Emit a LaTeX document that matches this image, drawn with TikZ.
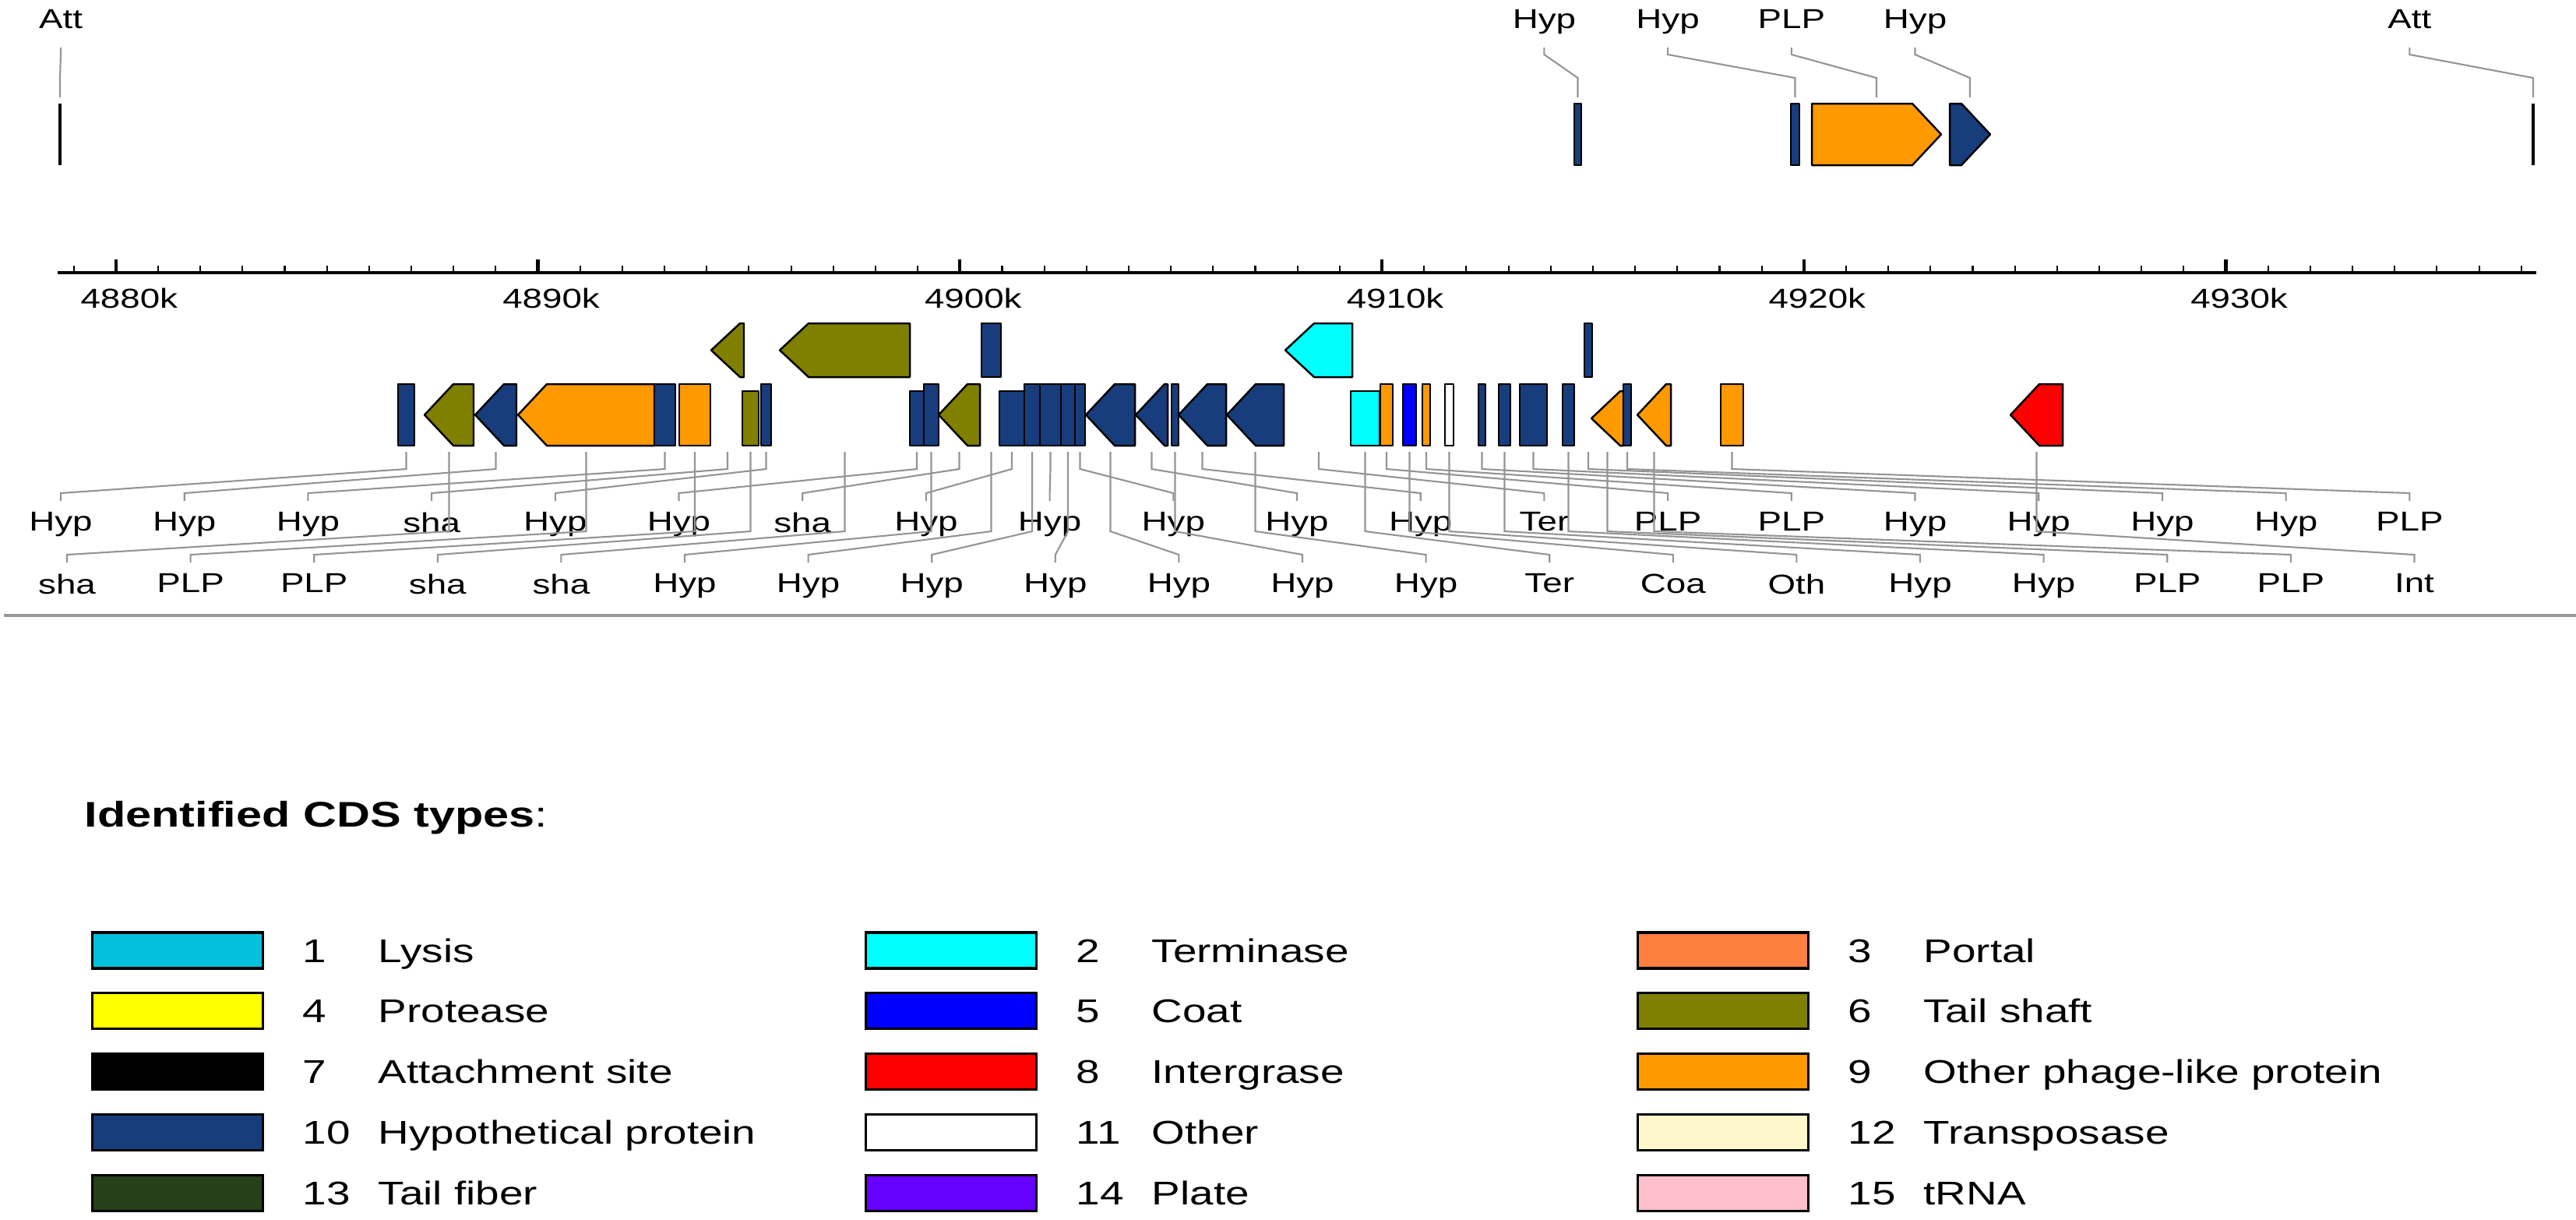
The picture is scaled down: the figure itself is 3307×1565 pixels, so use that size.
\documentclass[tikz,border=0pt]{standalone}
\usepackage{fontspec}
\setmainfont{Liberation Sans}[FakeStretch=1.3]
\usetikzlibrary{calc}

\definecolor{hypblue}{RGB}{23,61,124}
\definecolor{shaft}{RGB}{128,128,0}
\definecolor{plp}{RGB}{255,153,0}
\definecolor{term}{RGB}{0,255,255}
\definecolor{coat}{RGB}{0,0,255}
\definecolor{intred}{RGB}{255,0,0}
\definecolor{lysis}{RGB}{5,192,221}
\definecolor{protease}{RGB}{255,255,0}
\definecolor{fiber}{RGB}{38,64,26}
\definecolor{plate}{RGB}{102,0,255}
\definecolor{portal}{RGB}{255,127,63}
\definecolor{transp}{RGB}{255,247,204}
\definecolor{trna}{RGB}{255,192,203}

\tikzset{
  cds/.style={draw=black, line width=0.7pt, line join=round},
  leader/.style={draw=black!42, line width=0.6pt},
  lbl/.style={font=\fontsize{10}{12}\selectfont, inner xsep=0pt, inner ysep=0.14cm, anchor=north},
  toplbl/.style={font=\fontsize{10}{12}\selectfont, inner xsep=0pt, inner ysep=0.24cm, anchor=south, text depth=0pt},
  ticklbl/.style={font=\fontsize{10}{12}\selectfont, inner sep=0pt},
  legbox/.style={draw=black, line width=0.9pt, minimum width=2.19cm, minimum height=0.46cm, inner sep=0pt, anchor=west},
  legtxt/.style={font=\fontsize{12}{14}\selectfont, inner sep=0pt, anchor=base west},
}

% name, x1, x2, top, bottom, direction (0 box, 1 right, 2 left), fill, anchor y
\newcommand{\cds}[8]{%
  \pgfmathsetmacro{\hd}{min(37,#3-#2)}%
  \pgfmathsetmacro{\ym}{(#4+#5)/2}%
  \ifcase#6
    \draw[cds,fill=#7] (#2,#4) rectangle (#3,#5);
  \or
    \draw[cds,fill=#7] (#2,#4) -- ({#3-\hd},#4) -- (#3,\ym) -- ({#3-\hd},#5) -- (#2,#5) -- cycle;
  \or
    \draw[cds,fill=#7] (#2,\ym) -- ({#2+\hd},#4) -- (#3,#4) -- (#3,#5) -- ({#2+\hd},#5) -- cycle;
  \fi
  \coordinate (#1) at ({(#2+#3)/2},#8);
}

\begin{document}
\begin{tikzpicture}[x=0.01cm, y=-0.01cm]
  \useasboundingbox (0,0) rectangle (3307,1565);

  % top strand
  \draw[line width=1pt] (77,133) -- (77,212);
  \draw[line width=1pt] (3252,133) -- (3252,212);
  \coordinate (t0) at (77,125);
  \coordinate (t5) at (3252,125);
  \cds{t1}{2021}{2030}{133}{212}{0}{hypblue}{125}
  \cds{t2}{2299}{2310}{133}{212}{0}{hypblue}{125}
  \cds{t3}{2326}{2492}{133}{212}{1}{plp}{125}
  \cds{t4}{2503}{2555}{133}{212}{1}{hypblue}{125}

  \foreach \tx/\s/\g in {Att/0/t0, Hyp/12/t1, Hyp/13/t2, PLP/14/t3, Hyp/15/t4, Att/19/t5} {
    \node[toplbl] (c\s) at ({78+158.7*\s},61) {\tx};
    \draw[leader] (c\s.south) -- ++(0,9) -- ($(\g)+(0,-25)$) -- (\g);
  }

  % axis
  \draw[line width=1.4pt] (74,350) -- (3256,350);
  \foreach \k in {-1,...,57}
    \draw[line width=0.6pt] ({148.8+54.174*\k},350) -- ++(0,-9);
  \foreach \k in {0,...,5} {
    \pgfmathtruncatemacro{\v}{4880+10*\k}
    \draw[line width=1.2pt] ({148.8+541.74*\k},350) -- ++(0,-17);
    \node[ticklbl] (tick\k) at ({165.8+541.74*\k},383) {\v k};
  }

  % bottom strand
  \foreach \nm/\xa/\xb/\ya/\yb/\dr/\col in {
    s0/511/532/493/572/0/hypblue, s1/545/608/493/572/2/shaft,
    s2/610/663/493/572/2/hypblue, s3/665/840/493/572/2/plp,
    s4/840/867/493/572/0/hypblue, s5/872/912/493/572/0/plp,
    s6/913/955/415/484/2/shaft, s7/953/974/502/572/0/shaft,
    s8/977/990/493/572/0/hypblue, s9/1001/1168/415/484/2/shaft,
    s10/1168/1186/502/572/0/hypblue, s11/1186/1205/493/572/0/hypblue,
    s12/1205/1258/493/572/2/shaft, s13/1260/1285/415/484/0/hypblue,
    s14/1283/1315/502/572/0/hypblue, s15/1315/1335/493/572/0/hypblue,
    s16/1335/1362/493/572/0/hypblue, s17/1362/1380/493/572/0/hypblue,
    s18/1380/1393/493/572/0/hypblue, s19/1394/1457/493/572/2/hypblue,
    s20/1458/1499/493/572/2/hypblue, s21/1504/1513/493/572/0/hypblue,
    s22/1513/1574/493/572/2/hypblue, s23/1575/1648/493/572/2/hypblue,
    s24/1650/1736/415/484/2/term, s25/1734/1771/502/572/0/term,
    s26/1772/1788/493/572/0/plp, s27/1801/1818/493/572/0/coat,
    s28/1826/1836/493/572/0/plp, s29/1855/1866/493/572/0/white,
    s30/1898/1907/493/572/0/hypblue, s31/1924/1939/493/572/0/hypblue,
    s32/1951/1986/493/572/0/hypblue, s33/2006/2021/493/572/0/hypblue,
    s34/2034/2044/415/484/0/hypblue, s35/2043/2084/502/572/2/plp,
    s36/2084/2094/493/572/0/hypblue, s37/2102/2145/493/572/2/plp,
    s38/2209/2238/493/572/0/plp, s39/2581/2648/493/572/2/intred}
    \cds{\nm}{\xa}{\xb}{\ya}{\yb}{\dr}{\col}{580};

  \foreach \tx [count=\i from 0] in {Hyp,Hyp,Hyp,sha,Hyp,Hyp,sha,Hyp,Hyp,Hyp,Hyp,Hyp,Ter,PLP,PLP,Hyp,Hyp,Hyp,Hyp,PLP}
    \node[lbl] (a\i) at ({78+158.7*\i},643) {\tx};
  \foreach \tx [count=\i from 0] in {sha,PLP,PLP,sha,sha,Hyp,Hyp,Hyp,Hyp,Hyp,Hyp,Hyp,Ter,Coa,Oth,Hyp,Hyp,PLP,PLP,Int}
    \node[lbl] (b\i) at ({86+158.6*\i},722) {\tx};

  \foreach \i in {0,...,19} {
    \pgfmathtruncatemacro{\j}{2*\i}
    \pgfmathtruncatemacro{\k}{2*\i+1}
    \draw[leader] (s\j) -- ++(0,22) -- ($(a\i.north)+(0,-10)$) -- (a\i.north);
    \draw[leader] (s\k) -- ++(0,102) -- ($(b\i.north)+(0,-10)$) -- (b\i.north);
  }

  \draw[line width=1.4pt, black!40] (5,790) -- (3307,790);

  % legend
  \node[legtxt, font=\fontsize{13}{15}\selectfont] (title) at (108,1061) {\textbf{Identified CDS types}:};
  \foreach \x/\j/\n/\tx/\col in {
    117/0/1/Lysis/lysis, 117/1/4/Protease/protease, 117/2/7/Attachment site/black,
    117/3/10/Hypothetical protein/hypblue, 117/4/13/Tail fiber/fiber,
    1110/0/2/Terminase/term, 1110/1/5/Coat/coat, 1110/2/8/Intergrase/intred,
    1110/3/11/Other/white, 1110/4/14/Plate/plate,
    2101/0/3/Portal/portal, 2101/1/6/Tail shaft/shaft, 2101/2/9/Other phage-like protein/plp,
    2101/3/12/Transposase/transp, 2101/4/15/tRNA/trna} {
    \node[legbox, fill=\col] (box\n) at (\x,{1220+77.8*\j}) {};
    \node[legtxt] (num\n) at ({\x+271},{1235+77.8*\j}) {\n};
    \node[legtxt] (txt\n) at ({\x+368},{1235+77.8*\j}) {\tx};
  }
\end{tikzpicture}
\end{document}
